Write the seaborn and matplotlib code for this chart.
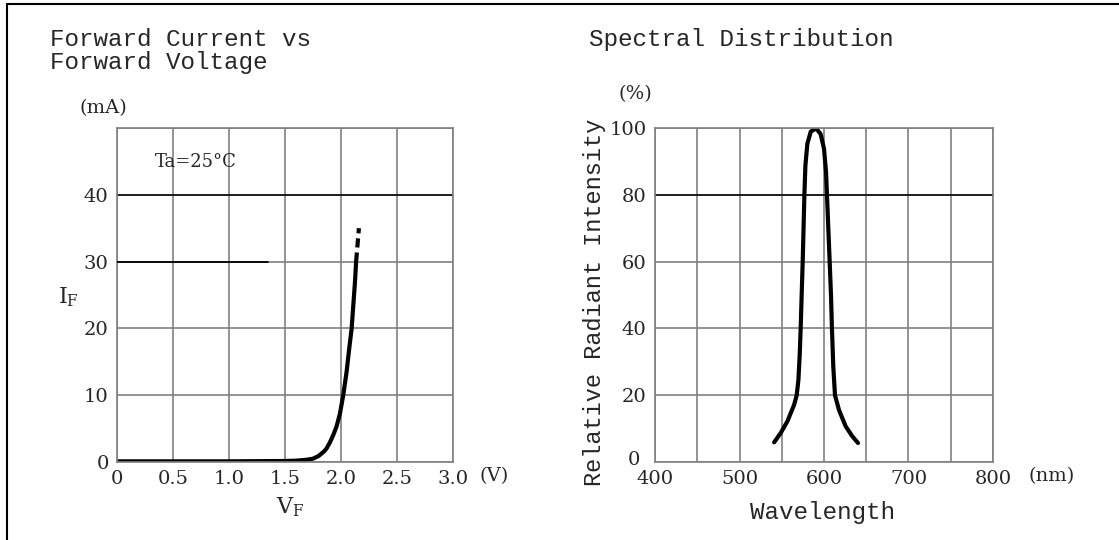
import matplotlib
matplotlib.use("Agg")
import matplotlib.pyplot as plt
from matplotlib.lines import Line2D
import seaborn as sns

# Forward current vs forward voltage
vf_volts = [0, 0.5, 1.0, 1.5, 1.6, 1.7, 1.75, 1.8, 1.85, 1.87, 1.9, 1.93,
            1.96, 1.99, 2.02, 2.05, 2.07, 2.095, 2.11, 2.125, 2.135]
if_ma = [0.1, 0.1, 0.1, 0.15, 0.2, 0.35, 0.5, 0.9, 1.6, 2.0, 2.9, 4.0,
         5.3, 7.2, 10.0, 13.5, 16.5, 20.0, 23.5, 27.0, 30.0]
vf_dashed = [2.135, 2.16]
if_dashed = [30.0, 35.0]
rated_current = 30
rated_span = [0, 1.35]

vf_ticks = [0, 0.5, 1.0, 1.5, 2.0, 2.5, 3.0]
vf_labels = ["0", "0.5", "1.0", "1.5", "2.0", "2.5", "3.0"]
if_ticks = [0, 10, 20, 30, 40, 50]
if_labels = ["0", "10", "20", "30", "40", ""]

# Spectral distribution
wavelength = [541, 548.8, 556.7, 564.6, 567.7, 569.7, 571.3, 572.4, 573.6,
              574.8, 576, 576.8, 578, 580.3, 584.3, 590.6, 596, 600, 602.4,
              603.5, 605.1, 606.7, 608.3, 609.4, 611, 613, 617.7, 625.6,
              633.5, 640.2]
intensity = [5.9, 8.7, 12.2, 17.1, 20, 24.5, 32.4, 40, 50.2,
             60.1, 72, 80.1, 88.8, 95.3, 98.9, 99.9, 98.2, 93.8, 86.8,
             80.1, 70, 60.1, 49.8, 40, 28.5, 20, 15.6, 10.7,
             7.7, 5.7]
wl_major = [400, 500, 600, 700, 800]
wl_minor = [450, 550, 650, 750]
ri_ticks = [0, 20, 40, 60, 80, 100]
ri_labels = ["", "20", "40", "60", "80", "100"]

sns.set_style("white")
mono = ["Liberation Mono", "DejaVu Sans Mono"]
serif = ["DejaVu Serif"]
plt.rcParams["font.family"] = serif
plt.rcParams["mathtext.fontset"] = "custom"
plt.rcParams["mathtext.rm"] = "DejaVu Serif"

W, H = 1119, 540
fig = plt.figure(figsize=(W / 100, H / 100), dpi=100)


def fx(px):
    return px / W


def fy(py):
    return 1 - py / H


grid_col = "#808080"
tick_fs = 14

# ---- left panel ----
ax1 = fig.add_axes([fx(117), fy(462), fx(453 - 117), (462 - 128) / H])
sns.lineplot(x=vf_volts, y=if_ma, ax=ax1, color="black", lw=3)
sns.lineplot(x=vf_dashed, y=if_dashed, ax=ax1, color="black", lw=3,
             linestyle=(0, (2.2, 1.2)))
ax1.plot(rated_span, [rated_current] * 2, color="black", lw=1.3, zorder=3)
ax1.axhline(40, color="black", lw=1.1, zorder=2)
ax1.set_xlim(0, 3.0)
ax1.set_ylim(0, 50)
ax1.set_xticks(vf_ticks)
ax1.set_xticklabels(vf_labels, fontsize=tick_fs)
ax1.set_yticks(if_ticks)
ax1.set_yticklabels(if_labels, fontsize=tick_fs)
ax1.text(0.70, 44.9, "Ta=25°C", fontsize=13, ha="center", va="center")

fig.text(fx(103), fy(108), "(mA)", fontsize=tick_fs, ha="center", va="center")
fig.text(fx(494), fy(476), "(V)", fontsize=tick_fs, ha="center", va="center")
fig.text(fx(68), fy(297), r"$\mathrm{I_F}$", fontsize=16, ha="center", va="center")
fig.text(fx(290), fy(507), r"$\mathrm{V_F}$", fontsize=16, ha="center", va="center")
fig.text(fx(50), fy(28), "Forward Current vs\nForward Voltage", family=mono,
         fontsize=17.5, ha="left", va="top", linespacing=1.0)

# ---- right panel ----
ax2 = fig.add_axes([fx(655), fy(462), fx(993 - 655), (462 - 128) / H])
sns.lineplot(x=wavelength, y=intensity, ax=ax2, color="black", lw=3)
ax2.axhline(80, color="black", lw=1.1, zorder=2)
ax2.set_xlim(400, 800)
ax2.set_ylim(0, 100)
ax2.set_xticks(wl_major)
ax2.set_xticklabels([str(v) for v in wl_major], fontsize=tick_fs)
ax2.set_xticks(wl_minor, minor=True)
ax2.set_yticks(ri_ticks)
ax2.set_yticklabels(ri_labels, fontsize=tick_fs)

fig.text(fx(634), fy(460), "0", fontsize=tick_fs, ha="center", va="center")
fig.text(fx(635), fy(94), "(%)", fontsize=tick_fs, ha="center", va="center")
fig.text(fx(1052), fy(476), "(nm)", fontsize=tick_fs, ha="center", va="center")
fig.text(fx(595), fy(302), "Relative Radiant Intensity", family=mono,
         fontsize=17, rotation=90, ha="center", va="center")
fig.text(fx(823), fy(512), "Wavelength", family=mono, fontsize=17.5,
         ha="center", va="center")
fig.text(fx(589), fy(28), "Spectral Distribution", family=mono,
         fontsize=17.5, ha="left", va="top")

for ax in (ax1, ax2):
    ax.grid(True, which="both", color=grid_col, lw=1.2, zorder=1)
    ax.tick_params(which="both", length=0, pad=6)
    ax.set_axisbelow(True)
    for s in ax.spines.values():
        s.set_color(grid_col)
        s.set_linewidth(1.2)

# outer frame (left and top edges visible in the reference)
fig.add_artist(Line2D([fx(7), fx(7)], [0, fy(4)], color="black", lw=1.5))
fig.add_artist(Line2D([fx(7), 1], [fy(4), fy(4)], color="black", lw=1.5))

fig.savefig("out.png", dpi=100)
